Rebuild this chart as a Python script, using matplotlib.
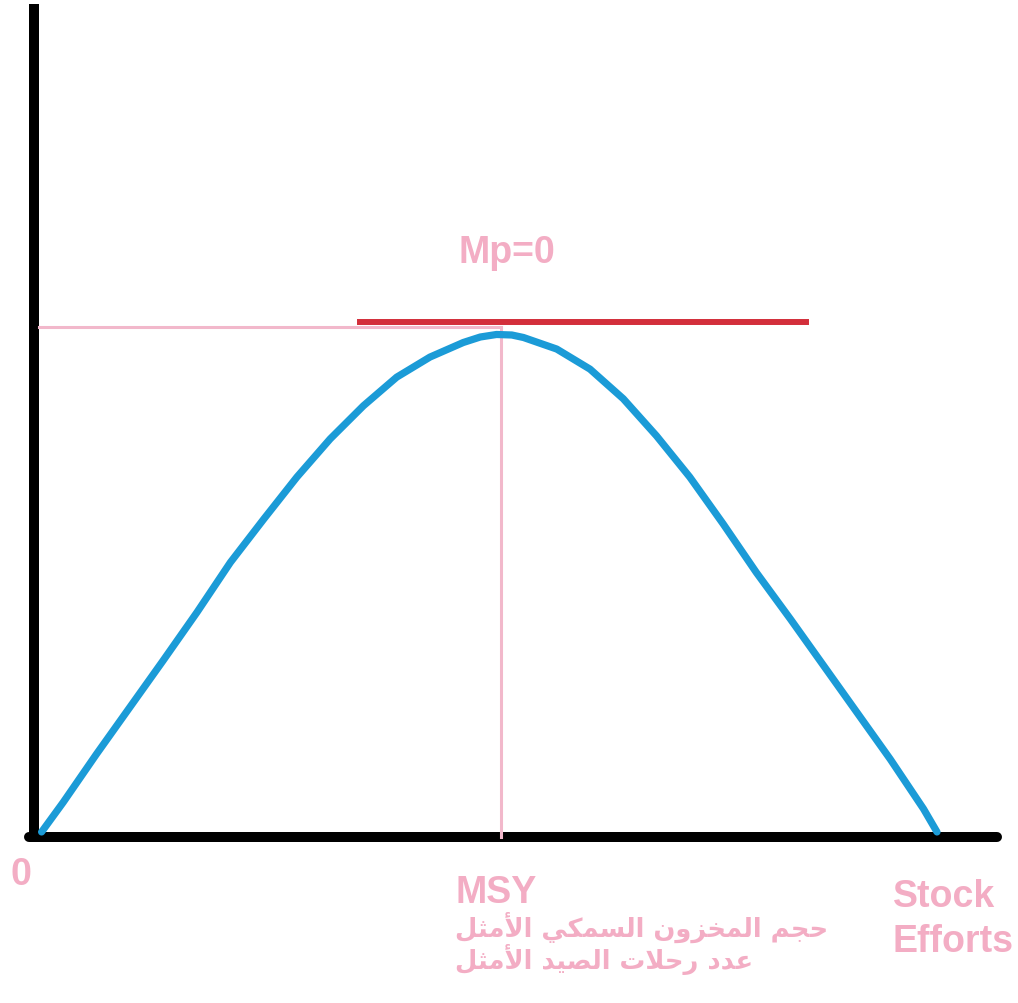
import matplotlib
matplotlib.use("Agg")
import matplotlib.pyplot as plt

# yield curve (effort 0..100, yield 0..100)
effort = [0.4, 2.8, 6.5, 10.2, 13.9, 17.7, 21.4, 25.1, 28.8, 32.5,
          36.2, 39.9, 43.6, 47.3, 49.2, 51.0, 52.7, 54.0, 57.7, 61.4,
          65.1, 68.8, 72.5, 76.2, 79.9, 83.7, 87.4, 91.1, 94.8, 98.5, 100]
yield_ = [0.4, 6.3, 15.9, 25.2, 34.5, 44.2, 54.1, 62.7, 71.1, 78.7,
          85.3, 91.0, 95.0, 97.9, 99.0, 99.5, 99.4, 98.9, 96.6, 92.6,
          86.7, 79.3, 71.1, 61.8, 52.1, 42.8, 33.5, 24.2, 14.9, 5.0, 0.4]

msy_x = 51.5
msy_y = 101.0
tangent_x = [35.8, 85.4]
tangent_y = 102.0

label_mp = "Mp=0"
label_msy = "MSY"
label_zero = "0"
label_stock = "Stock"
label_efforts = "Efforts"
label_ar1 = "حجم المخزون السمكي الأمثل"
label_ar2 = "عدد رحلات الصيد الأمثل"

# contextual forms: isolated, final, initial, medial
FORMS = {
    'ا': ('\ufe8d', '\ufe8e'), 'أ': ('\ufe83', '\ufe84'),
    'د': ('\ufea9', '\ufeaa'), 'ر': ('\ufead', '\ufeae'),
    'ز': ('\ufeaf', '\ufeb0'), 'و': ('\ufeed', '\ufeee'),
    '\ufefb': ('\ufefb', '\ufefc'), '\ufef7': ('\ufef7', '\ufef8'),
    'ح': ('\ufea1', '\ufea2', '\ufea3', '\ufea4'),
    'ج': ('\ufe9d', '\ufe9e', '\ufe9f', '\ufea0'),
    'خ': ('\ufea5', '\ufea6', '\ufea7', '\ufea8'),
    'م': ('\ufee1', '\ufee2', '\ufee3', '\ufee4'),
    'ل': ('\ufedd', '\ufede', '\ufedf', '\ufee0'),
    'ن': ('\ufee5', '\ufee6', '\ufee7', '\ufee8'),
    'س': ('\ufeb1', '\ufeb2', '\ufeb3', '\ufeb4'),
    'ك': ('\ufed9', '\ufeda', '\ufedb', '\ufedc'),
    'ي': ('\ufef1', '\ufef2', '\ufef3', '\ufef4'),
    'ث': ('\ufe99', '\ufe9a', '\ufe9b', '\ufe9c'),
    'ع': ('\ufec9', '\ufeca', '\ufecb', '\ufecc'),
    'ت': ('\ufe95', '\ufe96', '\ufe97', '\ufe98'),
    'ص': ('\ufeb9', '\ufeba', '\ufebb', '\ufebc'),
}


def shape(text):
    # matplotlib has no arabic shaping, so do it by hand
    text = text.replace('لأ', '\ufef7').replace('لا', '\ufefb')
    out = []
    for i, c in enumerate(text):
        if c not in FORMS:
            out.append(c)
            continue
        prev = text[i - 1] if i > 0 else ''
        nxt = text[i + 1] if i < len(text) - 1 else ''
        f = FORMS[c]
        p = prev in FORMS and len(FORMS[prev]) == 4
        n = len(f) == 4 and nxt in FORMS
        if len(f) == 2:
            out.append(f[1] if p else f[0])
        elif p and n:
            out.append(f[3])
        elif p:
            out.append(f[1])
        elif n:
            out.append(f[2])
        else:
            out.append(f[0])
    return ''.join(out)[::-1]


pink = '#f3adc4'
line_pink = '#f2b8cb'

fig = plt.figure(figsize=(10.18, 10.04), dpi=100)
ax = fig.add_axes([0, 0, 1, 1])
ax.set_xlim(-4.227, 109.01)
ax.set_ylim(-33.67, 166.33)
ax.axis('off')

# axes
ax.plot([-0.445, -0.445], [-1.6, 165.3], color='black', lw=7.2, solid_capstyle='butt')
ax.plot([-1.0, 106.7], [-0.6, -0.6], color='black', lw=7.2, solid_capstyle='round')

# guide lines
ax.plot([0.1, msy_x], [msy_y, msy_y], color=line_pink, lw=2.2)
ax.plot([msy_x, msy_x], [-0.6, msy_y], color=line_pink, lw=2.2)

ax.plot(effort, yield_, color='#1b9bd7', lw=5.2, solid_capstyle='round',
        solid_joinstyle='round')
ax.plot(tangent_x, [tangent_y, tangent_y], color='#d32f3b', lw=4.3)

tkw = dict(color=pink, fontsize=27, fontweight='bold', family='Liberation Sans')
ax.text(52.1, 113.9, label_mp, ha='center', va='baseline', **tkw)
ax.text(46.4, -13.5, label_msy, ha='left', va='baseline', **tkw)
ax.text(-3.1, -10.0, label_zero, ha='left', va='baseline', **tkw)
ax.text(95.1, -14.3, label_stock, ha='left', va='baseline', **tkw)
ax.text(95.1, -23.3, label_efforts, ha='left', va='baseline', **tkw)

akw = dict(color=pink, fontsize=18.5, fontweight='bold', family='DejaVu Sans')
ax.text(46.4, -20.3, shape(label_ar1), ha='left', va='baseline', **akw)
ax.text(46.4, -26.6, shape(label_ar2), ha='left', va='baseline', **akw)

fig.savefig('out.png', dpi=100)
